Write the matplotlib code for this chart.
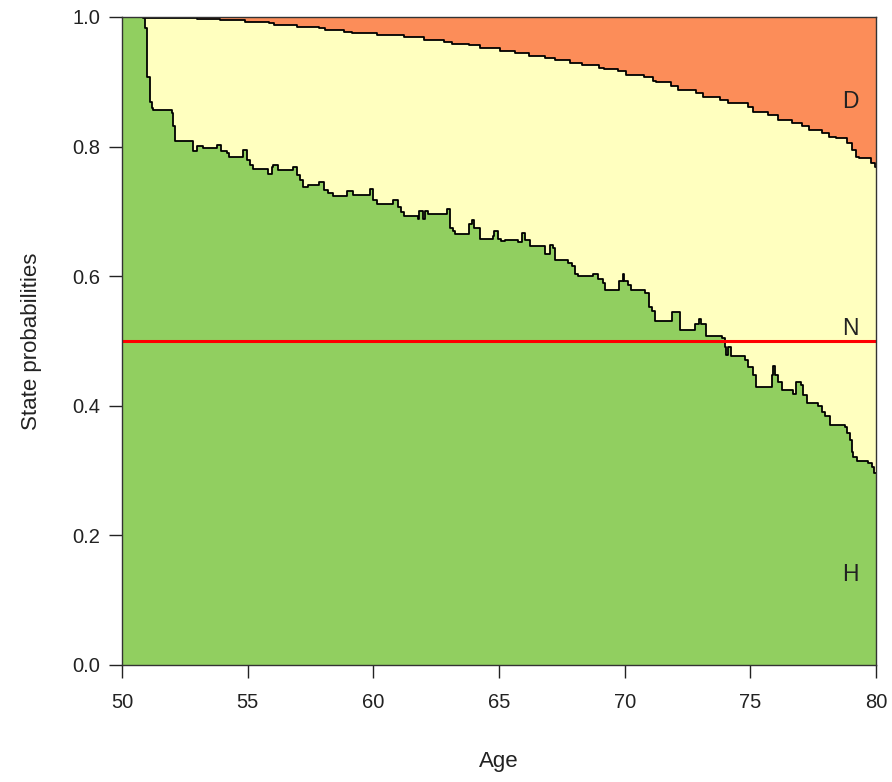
import matplotlib.pyplot as plt
import numpy as np

plt.rcParams['font.family'] = ['Liberation Sans', 'DejaVu Sans']

# probability of being healthy (H), step function over age
h_age = [50.00, 50.82, 50.92, 50.98, 51.11, 51.18, 51.23, 51.99, 52.03, 52.11,
         52.81, 52.97, 53.24, 53.77, 53.93, 54.18, 54.26, 54.80, 54.96, 55.09,
         55.22, 55.82, 55.96, 56.02, 56.22, 56.79, 56.98, 57.08, 57.21, 57.41,
         57.85, 58.04, 58.21, 58.41, 58.81, 58.97, 59.20, 59.87, 60.00, 60.15,
         60.77, 61.00, 61.09, 61.23, 61.79, 61.83, 61.99, 62.06, 62.19, 62.95,
         63.05, 63.16, 63.25, 63.81, 63.92, 64.01, 64.25, 64.75, 64.82, 64.97,
         65.07, 65.24, 65.77, 65.92, 66.04, 66.24, 66.83, 67.03, 67.14, 67.23,
         67.76, 67.89, 68.03, 68.16, 68.75, 68.95, 69.15, 69.22, 69.79, 69.95,
         69.99, 70.15, 70.24, 70.81, 70.98, 71.08, 71.21, 71.87, 72.20, 72.80,
         72.97, 73.04, 73.24, 73.86, 74.00, 74.05, 74.10, 74.22, 74.79, 74.92,
         75.10, 75.23, 75.85, 75.92, 75.99, 76.12, 76.25, 76.71, 76.81, 77.01,
         77.11, 77.25, 77.71, 77.85, 77.98, 78.18, 78.77, 78.86, 78.97, 79.04,
         79.10, 79.24, 79.70, 79.83, 79.92, 80.00]
h_prob = [1.000, 0.998, 0.983, 0.907, 0.869, 0.860, 0.856, 0.852, 0.832, 0.808,
          0.793, 0.801, 0.798, 0.802, 0.793, 0.790, 0.784, 0.795, 0.779, 0.772,
          0.765, 0.757, 0.768, 0.772, 0.764, 0.768, 0.756, 0.748, 0.738, 0.740,
          0.745, 0.733, 0.728, 0.724, 0.723, 0.731, 0.725, 0.735, 0.718, 0.712,
          0.718, 0.707, 0.699, 0.693, 0.688, 0.701, 0.688, 0.701, 0.696, 0.704,
          0.674, 0.669, 0.665, 0.681, 0.687, 0.674, 0.658, 0.662, 0.670, 0.658,
          0.654, 0.656, 0.653, 0.667, 0.656, 0.647, 0.635, 0.648, 0.643, 0.625,
          0.620, 0.615, 0.604, 0.601, 0.603, 0.595, 0.589, 0.579, 0.592, 0.603,
          0.592, 0.586, 0.579, 0.574, 0.553, 0.547, 0.531, 0.544, 0.517, 0.526,
          0.534, 0.526, 0.507, 0.505, 0.491, 0.478, 0.491, 0.477, 0.471, 0.460,
          0.448, 0.429, 0.448, 0.461, 0.448, 0.437, 0.425, 0.418, 0.436, 0.432,
          0.417, 0.404, 0.399, 0.391, 0.385, 0.371, 0.368, 0.358, 0.347, 0.329,
          0.321, 0.315, 0.311, 0.306, 0.297, 0.297]

# probability of being alive (H + N), step function over age
alive_age = [50.00, 50.92, 52.98, 53.90, 54.89, 55.84, 56.04, 56.96, 57.84, 58.09,
             58.83, 59.15, 60.15, 61.22, 62.02, 62.81, 63.13, 63.81, 64.25, 65.04,
             65.64, 66.18, 66.83, 67.23, 67.83, 68.30, 68.98, 69.18, 69.72, 70.06,
             70.77, 71.12, 71.25, 71.85, 72.12, 72.84, 73.12, 73.80, 74.12, 74.91,
             75.11, 75.71, 76.12, 76.66, 77.06, 77.34, 77.86, 78.14, 78.40, 78.85,
             79.05, 79.19, 79.33, 79.80, 79.96, 80.00]
alive_prob = [1.000, 0.999, 0.997, 0.995, 0.993, 0.990, 0.988, 0.985, 0.983, 0.980,
              0.977, 0.976, 0.972, 0.969, 0.965, 0.962, 0.959, 0.957, 0.952, 0.948,
              0.944, 0.940, 0.936, 0.933, 0.929, 0.926, 0.922, 0.919, 0.916, 0.910,
              0.907, 0.902, 0.899, 0.894, 0.888, 0.882, 0.876, 0.872, 0.867, 0.861,
              0.854, 0.849, 0.841, 0.837, 0.832, 0.826, 0.821, 0.815, 0.813, 0.805,
              0.795, 0.784, 0.782, 0.774, 0.769, 0.769]

state_labels = ['D', 'N', 'H']
label_y = [0.87, 0.52, 0.14]
cols = ['#FC8D59', '#FFFFBF', '#91CF60']

fig = plt.figure(figsize=(8.92, 7.82), dpi=100)
ax = fig.add_axes([122 / 892, 117 / 782, 754 / 892, 648 / 782])

ax.fill_between([50, 80], 0, 1, color=cols[0], lw=0)
ax.fill_between(alive_age, 0, alive_prob, step='post', color=cols[1], lw=0)
ax.fill_between(h_age, 0, h_prob, step='post', color=cols[2], lw=0)
ax.step(alive_age, alive_prob, where='post', color='black', lw=1.3)
ax.step(h_age, h_prob, where='post', color='black', lw=1.3)

ax.axhline(0.5, color='red', lw=2.2)

for lab, yy in zip(state_labels, label_y):
    ax.text(79, yy, lab, fontsize=16.5, ha='center', va='center', color='#222222')

ax.set_xlim(50, 80)
ax.set_ylim(0, 1)
ax.set_xticks(np.arange(50, 81, 5))
ax.set_yticks(np.arange(0, 1.01, 0.2))
ax.set_yticklabels(['%.1f' % v for v in np.arange(0, 1.01, 0.2)])
ax.tick_params(direction='out', length=9.5, width=1, labelsize=14.5, colors='#222222', pad=11)
ax.tick_params(axis='y', pad=6)
for sp in ax.spines.values():
    sp.set_color('#333333')
    sp.set_linewidth(1)

ax.set_xlabel('Age', fontsize=16, labelpad=28, color='#222222')
ax.set_ylabel('State probabilities', fontsize=16, labelpad=22, color='#222222')

fig.savefig('out.png', dpi=100)
